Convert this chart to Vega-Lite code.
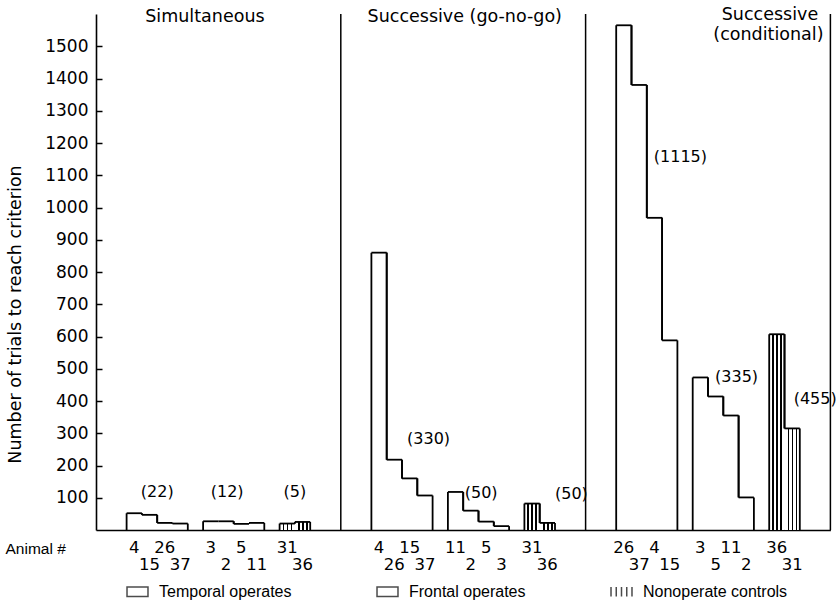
{
  "$schema": "https://vega.github.io/schema/vega-lite/v6.json",
  "width": 734.4,
  "height": 516,
  "autosize": {"type": "none"},
  "padding": {"left": 96, "top": 14, "right": 6.6, "bottom": 78},
  "background": "white",
  "config": {
    "font": "DejaVu Sans",
    "view": {"stroke": null},
    "axisY": {"labelOverlap": false, "labelBound": false, "ticks": true, "tickColor": "black", "tickWidth": 1.5, "tickOpacity": 1, "domainColor": "black", "domainWidth": 1.6, "grid": false}
  },
  "datasets": {
    "bars": [
      {"task": "Simultaneous", "group": "Temporal operates", "animal": "4", "rank": 1, "trials": 52},
      {"task": "Simultaneous", "group": "Temporal operates", "animal": "15", "rank": 2, "trials": 47},
      {"task": "Simultaneous", "group": "Temporal operates", "animal": "26", "rank": 3, "trials": 22},
      {"task": "Simultaneous", "group": "Temporal operates", "animal": "37", "rank": 4, "trials": 20},
      {"task": "Simultaneous", "group": "Frontal operates", "animal": "3", "rank": 1, "trials": 27},
      {"task": "Simultaneous", "group": "Frontal operates", "animal": "2", "rank": 2, "trials": 27},
      {"task": "Simultaneous", "group": "Frontal operates", "animal": "5", "rank": 3, "trials": 19},
      {"task": "Simultaneous", "group": "Frontal operates", "animal": "11", "rank": 4, "trials": 22},
      {"task": "Simultaneous", "group": "Nonoperate controls", "animal": "31", "rank": 1, "trials": 20},
      {"task": "Simultaneous", "group": "Nonoperate controls", "animal": "36", "rank": 2, "trials": 25},
      {"task": "Successive (go-no-go)", "group": "Temporal operates", "animal": "4", "rank": 1, "trials": 860},
      {"task": "Successive (go-no-go)", "group": "Temporal operates", "animal": "26", "rank": 2, "trials": 218},
      {"task": "Successive (go-no-go)", "group": "Temporal operates", "animal": "15", "rank": 3, "trials": 160},
      {"task": "Successive (go-no-go)", "group": "Temporal operates", "animal": "37", "rank": 4, "trials": 107},
      {"task": "Successive (go-no-go)", "group": "Frontal operates", "animal": "11", "rank": 1, "trials": 118},
      {"task": "Successive (go-no-go)", "group": "Frontal operates", "animal": "2", "rank": 2, "trials": 60},
      {"task": "Successive (go-no-go)", "group": "Frontal operates", "animal": "5", "rank": 3, "trials": 26},
      {"task": "Successive (go-no-go)", "group": "Frontal operates", "animal": "3", "rank": 4, "trials": 12},
      {"task": "Successive (go-no-go)", "group": "Nonoperate controls", "animal": "31", "rank": 1, "trials": 82},
      {"task": "Successive (go-no-go)", "group": "Nonoperate controls", "animal": "36", "rank": 2, "trials": 22},
      {"task": "Successive (conditional)", "group": "Temporal operates", "animal": "26", "rank": 1, "trials": 1565},
      {"task": "Successive (conditional)", "group": "Temporal operates", "animal": "37", "rank": 2, "trials": 1380},
      {"task": "Successive (conditional)", "group": "Temporal operates", "animal": "4", "rank": 3, "trials": 968},
      {"task": "Successive (conditional)", "group": "Temporal operates", "animal": "15", "rank": 4, "trials": 588},
      {"task": "Successive (conditional)", "group": "Frontal operates", "animal": "3", "rank": 1, "trials": 473},
      {"task": "Successive (conditional)", "group": "Frontal operates", "animal": "5", "rank": 2, "trials": 414},
      {"task": "Successive (conditional)", "group": "Frontal operates", "animal": "11", "rank": 3, "trials": 355},
      {"task": "Successive (conditional)", "group": "Frontal operates", "animal": "2", "rank": 4, "trials": 101},
      {"task": "Successive (conditional)", "group": "Nonoperate controls", "animal": "36", "rank": 1, "trials": 607},
      {"task": "Successive (conditional)", "group": "Nonoperate controls", "animal": "31", "rank": 2, "trials": 315}
    ],
    "means": [
      {"task": "Simultaneous", "group": "Temporal operates", "mean": 22},
      {"task": "Simultaneous", "group": "Frontal operates", "mean": 12},
      {"task": "Simultaneous", "group": "Nonoperate controls", "mean": 5},
      {"task": "Successive (go-no-go)", "group": "Temporal operates", "mean": 330},
      {"task": "Successive (go-no-go)", "group": "Frontal operates", "mean": 50},
      {"task": "Successive (go-no-go)", "group": "Nonoperate controls", "mean": 50},
      {"task": "Successive (conditional)", "group": "Temporal operates", "mean": 1115},
      {"task": "Successive (conditional)", "group": "Frontal operates", "mean": 335},
      {"task": "Successive (conditional)", "group": "Nonoperate controls", "mean": 455}
    ]
  },
  "data": {"name": "bars"},
  "transform": [
    {"calculate": "indexof(['Simultaneous','Successive (go-no-go)','Successive (conditional)'], datum.task)", "as": "ti"},
    {"calculate": "indexof(['Temporal operates','Frontal operates','Nonoperate controls'], datum.group)", "as": "gi"},
    {"calculate": "[1,17,33][datum.ti] + [0,5,10][datum.gi] + datum.rank", "as": "x0"},
    {"calculate": "datum.x0 + 1", "as": "x1"},
    {"calculate": "datum.x0 + 0.5", "as": "xm"},
    {"window": [{"op": "lag", "field": "trials", "as": "prev"}, {"op": "lead", "field": "trials", "as": "next"}], "groupby": ["task", "group"], "sort": [{"field": "rank", "order": "ascending"}]},
    {"calculate": "datum.prev == null ? 0 : datum.prev", "as": "p0"},
    {"calculate": "datum.next == null ? 0 : datum.next", "as": "n0"}
  ],
  "layer": [
    {
      "transform": [{"filter": "datum.group == 'Nonoperate controls'"}],
      "mark": {
        "type": "bar",
        "fill": {"gradient": "linear", "x1": 0, "y1": 0, "x2": 1, "y2": 0, "stops": [
          {"offset": 0, "color": "white"}, {"offset": 0.2, "color": "white"},
          {"offset": 0.2, "color": "black"}, {"offset": 0.32, "color": "black"},
          {"offset": 0.32, "color": "white"}, {"offset": 0.46, "color": "white"},
          {"offset": 0.46, "color": "black"}, {"offset": 0.58, "color": "black"},
          {"offset": 0.58, "color": "white"}, {"offset": 0.72, "color": "white"},
          {"offset": 0.72, "color": "black"}, {"offset": 0.84, "color": "black"},
          {"offset": 0.84, "color": "white"}, {"offset": 1, "color": "white"}]},
        "stroke": null
      },
      "encoding": {
        "x": {"field": "x0", "type": "quantitative", "scale": {"domain": [0, 48], "nice": false, "zero": false},
          "axis": {"title": "Animal #", "labels": false, "ticks": false, "grid": false, "domainColor": "black", "domainWidth": 1.6,
            "titleX": -91, "titleY": 18, "titleAlign": "left", "titleBaseline": "middle", "titleAnchor": null,
            "titleFont": "Liberation Sans", "titleFontSize": 15.5, "titleFontWeight": "normal", "titleColor": "black"}},
        "x2": {"field": "x1"},
        "y": {"field": "trials", "type": "quantitative", "scale": {"domain": [0, 1600], "nice": false},
          "axis": {"title": "Number of trials to reach criterion",
            "tickCount": 16, "format": "d", "labelOverlap": false,
            "labelExpr": "datum.value == 0 || datum.value >= 1600 ? '' : datum.label",
            "tickOpacity": {"condition": {"test": "datum.value >= 1600 || datum.value == 0", "value": 0}, "value": 1},
            "ticks": true, "tickSize": -6,
            "labelFontSize": 17, "labelColor": "black", "labelPadding": 14,
            "titleFontSize": 17.5, "titleFontWeight": "normal", "titleColor": "black", "titleY": 300, "titleX": -72}},
        "y2": {"datum": 0}
      }
    },
    {
      "mark": {"type": "rule", "color": "black", "strokeWidth": 1.8},
      "encoding": {
        "x": {"field": "x0", "type": "quantitative"},
        "x2": {"field": "x1"},
        "y": {"field": "trials", "type": "quantitative"}
      }
    },
    {
      "mark": {"type": "rule", "color": "black", "strokeWidth": 1.8},
      "encoding": {
        "x": {"field": "x0", "type": "quantitative"},
        "y": {"field": "p0", "type": "quantitative"},
        "y2": {"field": "trials"}
      }
    },
    {
      "mark": {"type": "rule", "color": "black", "strokeWidth": 1.8},
      "encoding": {
        "x": {"field": "x1", "type": "quantitative"},
        "y": {"field": "trials", "type": "quantitative"},
        "y2": {"field": "n0"}
      }
    },
    {
      "data": {"values": [{}]},
      "mark": {"type": "rule", "color": "black", "strokeWidth": 1.5},
      "encoding": {"x": {"datum": 16, "type": "quantitative"}}
    },
    {
      "data": {"values": [{}]},
      "mark": {"type": "rule", "color": "black", "strokeWidth": 1.5},
      "encoding": {"x": {"datum": 32, "type": "quantitative"}}
    },
    {
      "data": {"values": [{}]},
      "mark": {"type": "rule", "color": "black", "strokeWidth": 1.5},
      "encoding": {"x": {"datum": 48, "type": "quantitative"}}
    },
    {
      "transform": [{"filter": "datum.rank % 2 == 1"}],
      "mark": {"type": "text", "fontSize": 16.5, "color": "black", "baseline": "middle", "dy": 18},
      "encoding": {
        "x": {"field": "xm", "type": "quantitative"},
        "y": {"datum": 0, "type": "quantitative"},
        "text": {"field": "animal"}
      }
    },
    {
      "transform": [{"filter": "datum.rank % 2 == 0"}],
      "mark": {"type": "text", "fontSize": 16.5, "color": "black", "baseline": "middle", "dy": 35},
      "encoding": {
        "x": {"field": "xm", "type": "quantitative"},
        "y": {"datum": 0, "type": "quantitative"},
        "text": {"field": "animal"}
      }
    },
    {
      "data": {"name": "means"},
      "transform": [
        {"calculate": "indexof(['Simultaneous','Successive (go-no-go)','Successive (conditional)'], datum.task)", "as": "ti"},
        {"calculate": "indexof(['Temporal operates','Frontal operates','Nonoperate controls'], datum.group)", "as": "gi"},
        {"calculate": "[1,17,33][datum.ti] + [0,5,10][datum.gi] + [[1.93,1.5,1.26],[3.33,2.1,3.0],[3.46,2.46,2.6]][datum.ti][datum.gi]", "as": "lx"},
        {"calculate": "[[119,119,119],[281,116,113],[1158,473,405]][datum.ti][datum.gi]", "as": "ly"},
        {"calculate": "'(' + datum.mean + ')'", "as": "label"}
      ],
      "mark": {"type": "text", "fontSize": 16, "color": "black", "align": "left", "baseline": "middle"},
      "encoding": {
        "x": {"field": "lx", "type": "quantitative"},
        "y": {"field": "ly", "type": "quantitative"},
        "text": {"field": "label"}
      }
    },
    {
      "data": {"values": [{}]},
      "mark": {"type": "text", "text": "Simultaneous", "fontSize": 17.5, "color": "black", "baseline": "middle"},
      "encoding": {"x": {"datum": 7.12, "type": "quantitative"}, "y": {"datum": 1590, "type": "quantitative"}}
    },
    {
      "data": {"values": [{}]},
      "mark": {"type": "text", "text": "Successive (go-no-go)", "fontSize": 17.5, "color": "black", "baseline": "middle"},
      "encoding": {"x": {"datum": 24.1, "type": "quantitative"}, "y": {"datum": 1590, "type": "quantitative"}}
    },
    {
      "data": {"values": [{}]},
      "mark": {"type": "text", "text": "Successive", "fontSize": 17.5, "color": "black", "baseline": "middle"},
      "encoding": {"x": {"datum": 44.05, "type": "quantitative"}, "y": {"datum": 1596, "type": "quantitative"}}
    },
    {
      "data": {"values": [{}]},
      "mark": {"type": "text", "text": "(conditional)", "fontSize": 17.5, "color": "black", "baseline": "middle"},
      "encoding": {"x": {"datum": 43.95, "type": "quantitative"}, "y": {"datum": 1534, "type": "quantitative"}}
    },
    {
      "transform": [{"filter": "false"}],
      "mark": {"type": "point", "filled": false, "color": "black", "strokeWidth": 1.5},
      "encoding": {
        "shape": {"field": "group", "type": "nominal",
          "scale": {"domain": ["Temporal operates", "Frontal operates", "Nonoperate controls"],
            "range": ["M-1,-0.45L1,-0.45L1,0.45L-1,0.45Z", "M-1,-0.45L1,-0.45L1,0.45L-1,0.45Z", "M-1,-0.45L-1,0.45M-0.5,-0.45L-0.5,0.45M0,-0.45L0,0.45M0.5,-0.45L0.5,0.45M1,-0.45L1,0.45"]},
          "legend": {"orient": "none", "legendX": 30, "legendY": 566, "direction": "horizontal", "title": null,
            "symbolSize": 440, "symbolStrokeWidth": 1.5, "symbolStrokeColor": "black", "symbolFillColor": "white",
            "labelFont": "Liberation Sans", "labelFontSize": 16, "labelColor": "black", "labelOffset": 10, "columnPadding": 82}}
      }
    }
  ]
}
